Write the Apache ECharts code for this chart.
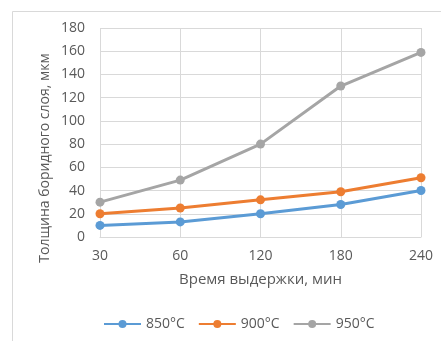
<!DOCTYPE html>
<html>
<head>
<meta charset="utf-8">
<script src="https://cdn.jsdelivr.net/npm/echarts@6/dist/echarts.min.js"></script>
<style>
  html, body { margin: 0; padding: 0; background: #fff; }
  #chart { width: 441px; height: 341px; }
</style>
</head>
<body>
<div id="chart"></div>
<script>
// время выдержки, мин
var categories = ['30', '60', '120', '180', '240'];
// толщина боридного слоя, мкм
var s850 = [10, 13, 20, 28, 40];
var s900 = [20, 25, 32, 39, 51];
var s950 = [30, 49, 80, 130, 159];
var seriesNames = ['850°C', '900°C', '950°C'];
var colors = ['#5b9bd5', '#ed7d31', '#a5a5a5'];

var font = 'Open Sans';
var chart = echarts.init(document.getElementById('chart'));

function line (name, data) {
  return {
    name: name,
    type: 'line',
    data: data,
    symbol: 'circle',
    symbolSize: 9,
    lineStyle: { width: 3 },
    emphasis: { disabled: true }
  };
}

chart.setOption({
  backgroundColor: '#fff',
  animation: false,
  color: colors,
  textStyle: { fontFamily: font },
  graphic: [
    {
      type: 'rect',
      shape: { x: 12.5, y: 11.5, width: 440, height: 340 },
      style: { fill: 'none', stroke: '#d9d9d9', lineWidth: 1 },
      silent: true
    },
    {
      type: 'text',
      x: 45,
      y: 158,
      rotation: Math.PI / 2,
      style: {
        text: 'Толщина боридного слоя, мкм',
        fill: '#595959',
        font: '14px "' + font + '"',
        align: 'center',
        verticalAlign: 'middle'
      },
      silent: true
    }
  ],
  grid: { left: 100, right: 20, top: 28, bottom: 104 },
  legend: {
    data: seriesNames,
    left: 103,
    top: 317,
    padding: 0,
    itemWidth: 37,
    itemHeight: 10,
    itemGap: 13,
    textStyle: { color: '#595959', fontSize: 14, fontFamily: font }
  },
  xAxis: {
    type: 'category',
    data: categories,
    boundaryGap: false,
    name: 'Время выдержки, мин',
    nameLocation: 'middle',
    nameGap: 35,
    nameTextStyle: { color: '#595959', fontSize: 15, fontFamily: font },
    axisLine: { lineStyle: { color: '#d9d9d9' } },
    axisTick: { show: false },
    axisLabel: { color: '#595959', fontSize: 14, margin: 12 },
    splitLine: { show: true, lineStyle: { color: '#d9d9d9' } }
  },
  yAxis: {
    type: 'value',
    min: 0,
    max: 180,
    interval: 20,
    axisLine: { show: false },
    axisTick: { show: false },
    axisLabel: { color: '#595959', fontSize: 14, margin: 15 },
    splitLine: { lineStyle: { color: '#d9d9d9' } }
  },
  series: [
    line(seriesNames[0], s850),
    line(seriesNames[1], s900),
    line(seriesNames[2], s950)
  ]
});
</script>
</body>
</html>
